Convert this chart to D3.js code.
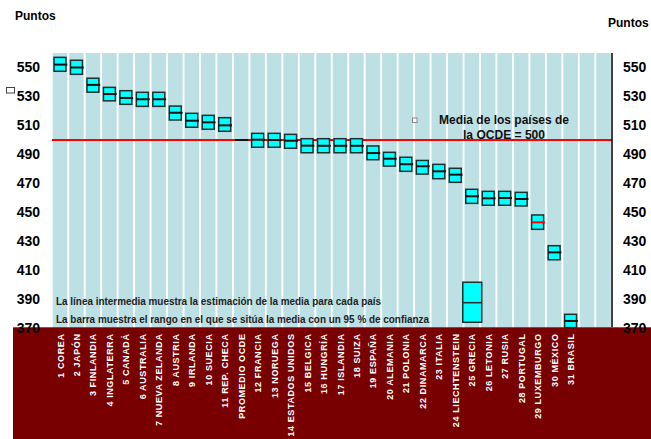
<!DOCTYPE html>
<html>
<head>
<meta charset="utf-8">
<script src="https://cdn.jsdelivr.net/npm/d3@7"></script>
<style>
  body { margin: 0; background: #fff; }
  svg { display: block; font-family: "Liberation Sans", Arial, sans-serif; }
</style>
</head>
<body>
<svg id="chart" width="651" height="439"></svg>
<script>
"use strict";

//Country labels, in the order of the chart (PROMEDIO OCDE has no box)
var countries = ["1 COREA", "2 JAPÓN", "3 FINLANDIA", "4 INGLATERRA", "5 CANADÁ",
  "6 AUSTRALIA", "7 NUEVA ZELANDA", "8 AUSTRIA", "9 IRLANDA", "10 SUECIA",
  "11 REP. CHECA", "PROMEDIO OCDE", "12 FRANCIA", "13 NORUEGA", "14 ESTADOS UNIDOS",
  "15 BELGICA", "16 HUNGRÍA", "17 ISLANDIA", "18 SUIZA", "19 ESPAÑA", "20 ALEMANIA",
  "21 POLONIA", "22 DINAMARCA", "23 ITALIA", "24 LIECHTENSTEIN", "25 GRECIA",
  "26 LETONIA", "27 RUSIA", "28 PORTUGAL", "29 LUXEMBURGO", "30 MÉXICO", "31 BRASIL"];
//Estimated mean and the 95% range
var means = [552, 550, 538, 531.7, 529, 528.1, 528.1, 518.8, 513.3, 512.2,
  510.1, 500, 500.2, 500, 499.5, 496.1, 496, 496, 496, 491, 487.1,
  483.3, 481.9, 478.4, 476.1, 461.2, 459.8, 460, 459.3, 443.2, 422.5, 375.2];
var lows = [547.4, 545.3, 533, 527, 524.6, 523.2, 523.2, 513.8, 508.8, 507.4,
  506, null, 495, 495, 494.3, 491.2, 491.2, 491.2, 491.2, 486.4, 482,
  478.4, 476.5, 473.3, 470.8, 456.3, 455, 455, 454.5, 438.4, 417.4, 370.6];
var highs = [557, 555, 542.6, 536.3, 534, 532.9, 532.9, 523.4, 518.4, 517,
  515.4, null, 504.6, 504.6, 503.9, 500.9, 500.9, 500.9, 500.9, 495.9, 491.5,
  488.1, 485.9, 483.2, 480.5, 466, 464.6, 464.6, 463.9, 448.3, 427.1, 379.8];
//Two empty columns at the right end of the chart
var emptyCols = ["_e1", "_e2"];
//The odd extra box drawn low in the Grecia column
var extraCountry = "25 GRECIA";
var extraMean = 387.8, extraLow = 374.3, extraHigh = 401.9;
//Country whose mean line is drawn in red
var redMeanCountry = "29 LUXEMBURGO";
var ocdeMean = 500;
var yTicks = [370, 390, 410, 430, 450, 470, 490, 510, 530, 550];

var svg = d3.select("#chart");

var x = d3.scaleBand()
    .domain(countries.concat(emptyCols))
    .range([52, 612]);

var y = d3.scaleLinear()
    .domain([370, 560])
    .range([328.5, 53]);

var bw = x.bandwidth();

//Light blue columns with thin white gaps
svg.append("g")
  .selectAll("rect")
  .data(x.domain())
  .enter().append("rect")
    .attr("x", function(d) { return x(d) + 0.7; })
    .attr("y", y(560))
    .attr("width", bw - 1.9)
    .attr("height", y(370) - y(560))
    .attr("fill", "#bde0e4");

//OCDE mean line
svg.append("line")
    .attr("x1", 52).attr("x2", 612)
    .attr("y1", y(ocdeMean)).attr("y2", y(ocdeMean))
    .attr("stroke", "#ff0000")
    .attr("stroke-width", 2);

var rows = countries.map(function(c, i) {
  return {c: c, m: means[i], lo: lows[i], hi: highs[i]};
});

//Confidence boxes
var boxes = svg.append("g");
boxes.selectAll("rect")
  .data(rows.filter(function(d) { return d.lo != null; }))
  .enter().append("rect")
    .attr("x", function(d) { return x(d.c) + 2; })
    .attr("y", function(d) { return y(d.hi); })
    .attr("width", bw - 4.5)
    .attr("height", function(d) { return y(d.lo) - y(d.hi); })
    .attr("fill", "#00ffff")
    .attr("stroke", "#1e3030")
    .attr("stroke-width", 1.5);

//Extra large box in the Grecia column
boxes.append("rect")
    .attr("x", x(extraCountry) - 1)
    .attr("y", y(extraHigh))
    .attr("width", bw + 2.5)
    .attr("height", y(extraLow) - y(extraHigh))
    .attr("fill", "#00ffff")
    .attr("stroke", "#1e3030")
    .attr("stroke-width", 1.5);
boxes.append("line")
    .attr("x1", x(extraCountry) - 1).attr("x2", x(extraCountry) + bw + 1.5)
    .attr("y1", y(extraMean)).attr("y2", y(extraMean))
    .attr("stroke", "#1e3030")
    .attr("stroke-width", 1.5);

//Mean lines
boxes.selectAll("line.mean")
  .data(rows)
  .enter().append("line")
    .attr("class", "mean")
    .attr("x1", function(d) { return x(d.c) + 2; })
    .attr("x2", function(d) { return x(d.c) + bw - 1.2; })
    .attr("y1", function(d) { return y(d.m); })
    .attr("y2", function(d) { return y(d.m); })
    .attr("stroke", function(d) { return d.c == redMeanCountry ? "#ff0000" : "#111"; })
    .attr("stroke-width", 2);

//Dark red band under the plot
svg.append("rect")
    .attr("x", 13).attr("y", 327.3)
    .attr("width", 651 - 13).attr("height", 439 - 327.3)
    .attr("fill", "#780000");

//Country labels, vertical
svg.append("g")
  .selectAll("text")
  .data(countries)
  .enter().append("text")
    .attr("transform", function(d) {
      return "translate(" + (x(d) + bw / 2 + 3.3) + ",333.5) rotate(-90)";
    })
    .attr("text-anchor", "end")
    .attr("fill", "#fff")
    .attr("font-size", "9px")
    .attr("font-weight", "bold")
    .attr("letter-spacing", "0.6px")
    .text(function(d) { return d; });

//Left axis
var left = svg.append("g")
    .attr("transform", "translate(40,0)")
    .call(d3.axisLeft(y).tickValues(yTicks).tickSize(0).tickPadding(0));
left.select(".domain").remove();
left.selectAll("text")
    .attr("font-size", "14px")
    .attr("font-weight", "bold")
    .attr("font-family", "'Liberation Sans', Arial, sans-serif")
    .attr("fill", "#000")
    .attr("dy", "0.28em");

//Right axis, with its black line
var right = svg.append("g")
    .attr("transform", "translate(612,0)")
    .call(d3.axisRight(y).tickValues(yTicks).tickSize(0).tickSizeOuter(0).tickPadding(11));
right.select(".domain")
    .attr("stroke", "#000")
    .attr("stroke-width", 1.5)
    .attr("d", "M0," + y(560) + "V327.3");
right.selectAll("text")
    .attr("font-size", "14px")
    .attr("font-weight", "bold")
    .attr("font-family", "'Liberation Sans', Arial, sans-serif")
    .attr("fill", "#000")
    .attr("dy", "0.28em");

//Axis captions
svg.append("text")
    .attr("x", 15).attr("y", 20)
    .attr("font-size", "12px").attr("font-weight", "bold")
    .text("Puntos");
svg.append("text")
    .attr("x", 608).attr("y", 27)
    .attr("font-size", "12px").attr("font-weight", "bold")
    .text("Puntos");

//OCDE annotation
svg.append("text")
    .attr("x", 504).attr("y", 123.5)
    .attr("text-anchor", "middle")
    .attr("font-size", "12px").attr("font-weight", "bold")
    .attr("fill", "#111")
    .attr("textLength", 130).attr("lengthAdjust", "spacingAndGlyphs")
    .text("Media de los países de");
svg.append("text")
    .attr("x", 504).attr("y", 138.5)
    .attr("text-anchor", "middle")
    .attr("font-size", "12px").attr("font-weight", "bold")
    .attr("fill", "#111")
    .attr("textLength", 82).attr("lengthAdjust", "spacingAndGlyphs")
    .text("la OCDE = 500");

//Notes at the bottom of the plot
svg.append("text")
    .attr("x", 56).attr("y", 304.5)
    .attr("font-size", "11px").attr("font-weight", "bold")
    .attr("fill", "#222")
    .attr("textLength", 325).attr("lengthAdjust", "spacingAndGlyphs")
    .text("La línea intermedia muestra la estimación de la media para cada país");
svg.append("text")
    .attr("x", 56).attr("y", 323)
    .attr("font-size", "11px").attr("font-weight", "bold")
    .attr("fill", "#222")
    .attr("textLength", 373).attr("lengthAdjust", "spacingAndGlyphs")
    .text("La barra muestra el rango en el que se sitúa la media con un 95 % de confianza");

//Small stray squares
svg.append("rect")
    .attr("x", 6.5).attr("y", 87.5).attr("width", 8).attr("height", 5.5)
    .attr("fill", "#fff").attr("stroke", "#444").attr("stroke-width", 1);
svg.append("rect")
    .attr("x", 412.5).attr("y", 118).attr("width", 4.5).attr("height", 4.5)
    .attr("fill", "#fff").attr("stroke", "#888").attr("stroke-width", 1);
</script>
</body>
</html>
